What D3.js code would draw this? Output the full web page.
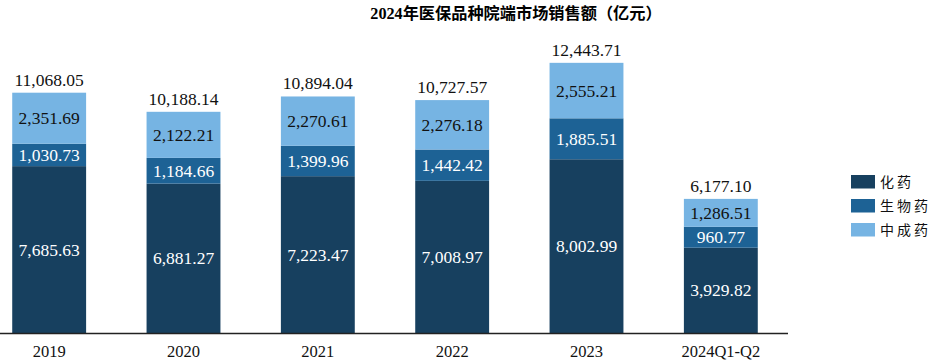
<!DOCTYPE html>
<html><head><meta charset="utf-8">
<script src="https://cdn.jsdelivr.net/npm/d3@7/dist/d3.min.js"></script>
<style>body{margin:0;background:#fff}svg{display:block}
.sf{font-family:"Liberation Serif","Times New Roman","DejaVu Serif",serif}
.tt{font-family:"Liberation Serif","Times New Roman","Noto Sans CJK SC",serif}
.cj{font-family:"Noto Sans CJK SC",sans-serif}
</style>
</head><body><svg id="c" width="938" height="360"></svg>
<script>
const categories = ["2019","2020","2021","2022","2023","2024Q1-Q2"];
const seriesNames = ["化药","生物药","中成药"];
const chemical = [7685.63,6881.27,7223.47,7008.97,8002.99,3929.82];
const biologic = [1030.73,1184.66,1399.96,1442.42,1885.51,960.77];
const tcm = [2351.69,2122.21,2270.61,2276.18,2555.21,1286.51];
const totals = [11068.05,10188.14,10894.04,10727.57,12443.71,6177.10];
const colors = ["#17405f","#1d6295","#76b4e3"];
const labelColors = ["#fff","#fff","#111"];

const svg = d3.select("#c");
const x = d3.scaleBand().domain(categories).range([-18, 788]).paddingInner(0.45).paddingOuter(0.225);
const y = d3.scaleLinear().domain([0, 11068.05]).range([333, 92.7]);
const fmt = d3.format(",.2f");

const data = categories.map((c,i)=>({cat:c, chemical:chemical[i], biologic:biologic[i], tcm:tcm[i]}));
const stack = d3.stack().keys(["chemical","biologic","tcm"])(data);

svg.append("text").attr("class","tt").attr("x",516).attr("y",19).attr("text-anchor","middle")
  .attr("font-weight","bold").attr("font-size",16.2)
  .text("2024年医保品种院端市场销售额（亿元）");

stack.forEach((s,k)=>{
  const g = svg.append("g");
  g.selectAll("rect").data(s).enter().append("rect")
    .attr("x",d=>x(d.data.cat)).attr("width",x.bandwidth())
    .attr("y",d=>y(d[1])).attr("height",d=>y(d[0])-y(d[1]))
    .attr("fill",colors[k]);
  g.selectAll("text").data(s).enter().append("text").attr("class","sf")
    .attr("x",d=>x(d.data.cat)+x.bandwidth()/2)
    .attr("y",d=>(y(d[0])+y(d[1]))/2+6)
    .attr("text-anchor","middle").attr("font-size",17.5)
    .attr("fill",labelColors[k]).text(d=>fmt(d[1]-d[0]));
});

svg.append("g").selectAll("text").data(totals).enter().append("text").attr("class","sf")
  .attr("x",(d,i)=>x(categories[i])+x.bandwidth()/2).attr("y",d=>y(d)-7)
  .attr("text-anchor","middle").attr("font-size",17.5).attr("fill","#111")
  .text(d=>fmt(d));

const axis = svg.append("g").attr("transform","translate(0,333)")
  .call(d3.axisBottom(x).tickSize(0).tickPadding(12));
axis.attr("font-family",null).attr("font-size",null);
axis.select(".domain").attr("d","M0,0.5H788").attr("stroke","#222").attr("stroke-width",1.3);
axis.selectAll("text").attr("class","sf").attr("font-size",16.5).attr("fill","#111");

const lg = svg.append("g");
seriesNames.forEach((n,i)=>{
  lg.append("rect").attr("x",851).attr("y",175+i*24).attr("width",24).attr("height",13.5).attr("fill",colors[i]);
  lg.append("text").attr("class","cj").attr("x",880).attr("y",187+i*24)
    .attr("font-size",14).attr("letter-spacing",3).attr("fill","#111").text(n);
});
</script></body></html>
